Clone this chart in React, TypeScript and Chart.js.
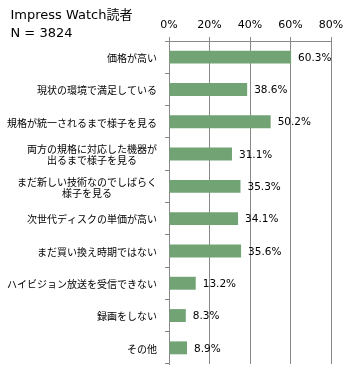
import React, { useEffect, useRef } from "react";
import { Chart, registerables } from "chart.js";

Chart.register(...registerables);

const titleLines = ["Impress Watch読者", "N = 3824"];
const categories: string[][] = [
  ["価格が高い"],
  ["現状の環境で満足している"],
  ["規格が統一されるまで様子を見る"],
  ["両方の規格に対応した機器が", "出るまで様子を見る"],
  ["まだ新しい技術なのでしばらく", "様子を見る"],
  ["次世代ディスクの単価が高い"],
  ["まだ買い換え時期ではない"],
  ["ハイビジョン放送を受信できない"],
  ["録画をしない"],
  ["その他"],
];
const values = [60.3, 38.6, 50.2, 31.1, 35.3, 34.1, 35.6, 13.2, 8.3, 8.9];
const xTicks = [0, 20, 40, 60, 80];

const BAR_COLOR = "#72A374";
const GRID_COLOR = "#888888";

export default function App() {
  const ref = useRef<HTMLCanvasElement | null>(null);

  useEffect(() => {
    if (!ref.current) return;

    const labelPlugin = {
      id: "customText",
      afterDraw(chart: any) {
        const ctx = chart.ctx;
        ctx.save();
        // title
        ctx.fillStyle = "#000";
        ctx.textAlign = "left";
        ctx.textBaseline = "alphabetic";
        ctx.font = "13px 'DejaVu Sans', 'Noto Sans CJK JP'";
        ctx.fillText(titleLines[0], 10.5, 19);
        ctx.fillText(titleLines[1], 10.5, 37);

        // category labels (block right-aligned, lines centered within block)
        const yScale = chart.scales.y;
        ctx.font = "10px 'Noto Sans CJK JP'";
        ctx.textBaseline = "middle";
        ctx.textAlign = "center";
        const right = yScale.right - 12;
        categories.forEach((lines, i) => {
          const cy = yScale.getPixelForValue(i) + 1;
          const widest = Math.max(...lines.map((l) => ctx.measureText(l).width));
          const cx = right - widest / 2;
          const lh = 11;
          const startY = cy - ((lines.length - 1) * lh) / 2;
          lines.forEach((l, j) => ctx.fillText(l, cx, startY + j * lh));
        });

        // value labels
        const meta = chart.getDatasetMeta(0);
        ctx.font = "10.5px 'DejaVu Sans'";
        ctx.textAlign = "left";
        ctx.textBaseline = "middle";
        meta.data.forEach((bar: any, i: number) => {
          ctx.fillText(values[i].toFixed(1) + "%", bar.x + 7, bar.y + 1);
        });
        ctx.restore();
      },
    };

    const chart = new Chart(ref.current, {
      type: "bar",
      data: {
        labels: categories.map((c) => c.join("")),
        datasets: [
          {
            data: values,
            backgroundColor: BAR_COLOR,
            borderWidth: 0,
            barPercentage: 0.8,
            categoryPercentage: 0.5,
          },
        ],
      },
      options: {
        indexAxis: "y",
        animation: false,
        responsive: false,
        layout: { padding: { top: 0, left: 0, right: 29, bottom: 16 } },
        plugins: { legend: { display: false }, tooltip: { enabled: false } },
        scales: {
          x: {
            position: "top",
            min: 0,
            max: 80,
            afterBuildTicks: (scale: any) => {
              scale.ticks = xTicks.map((v) => ({ value: v }));
            },
            afterFit: (scale: any) => {
              scale.height = 41;
            },
            ticks: {
              color: "#000",
              font: { family: "'DejaVu Sans'", size: 11 },
              padding: 5,
              callback: (v: any) => v + "%",
            },
            grid: {
              color: GRID_COLOR,
              lineWidth: 1,
              tickLength: 4,
              drawTicks: true,
            },
            border: { display: true, color: GRID_COLOR },
          },
          y: {
            afterFit: (scale: any) => {
              scale.width = 169;
            },
            ticks: { display: false },
            grid: {
              offset: true,
              drawOnChartArea: false,
              color: GRID_COLOR,
              tickLength: 4,
            },
            border: { display: true, color: GRID_COLOR },
          },
        },
      },
      plugins: [labelPlugin],
    });

    return () => chart.destroy();
  }, []);

  return (
    <div style={{ position: "fixed", left: 0, top: 0, width: 360, height: 380, background: "#fff" }}>
      <canvas ref={ref} width={360} height={380} style={{ width: 360, height: 380 }} />
    </div>
  );
}
